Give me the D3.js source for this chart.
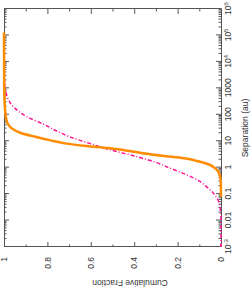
<!DOCTYPE html>
<html>
<head>
<meta charset="utf-8">
<script src="https://cdnjs.cloudflare.com/ajax/libs/d3/7.8.5/d3.min.js"></script>
<style>
  html, body { margin: 0; padding: 0; background: #fff; }
  svg { display: block; }
  .axis text { font-family: "Liberation Sans", Arial, sans-serif; font-size: 8.5px; fill: #333; }
  .axis path, .axis line { stroke: #555; stroke-width: 1; }
</style>
</head>
<body>
<div id="chart"></div>
<script>
// separation ticks (au), log scale
const sepMajor = [1e-3, 1e-2, 1e-1, 1, 10, 100, 1000, 1e4, 1e5, 1e6];
const sepLabels = [["10", "-3"], ["0.01", ""], ["0.1", ""], ["1", ""], ["10", ""], ["100", ""], ["1000", ""], ["10", "4"], ["10", "5"], ["10", "6"]];
const fracMajor = [0, 0.2, 0.4, 0.6, 0.8, 1];
const fracLabels = ["0", "0.2", "0.4", "0.6", "0.8", "1"];
const fracMinor = [0.1, 0.3, 0.5, 0.7, 0.9];

// orange: observed cumulative distribution
const orangeSep = [0.08, 0.3, 0.5, 0.7, 1.0, 1.26, 1.7, 2.26, 2.8, 3.5, 4.5, 5.5, 6.6, 8.3, 11, 15, 21, 31, 45, 70, 150, 1000, 1.3e5];
const orangeFrac = [0, 0.001, 0.005, 0.012, 0.03, 0.05, 0.10, 0.17, 0.27, 0.36, 0.44, 0.52, 0.62, 0.72, 0.79, 0.86, 0.925, 0.965, 0.982, 0.99, 0.995, 0.999, 1];

// pink: model distribution (dash-dot)
const pinkSep = [1e-3, 0.01, 0.02, 0.039, 0.07, 0.108, 0.2, 0.3, 0.61, 1.0, 1.55, 2.5, 4.7, 8, 15, 25, 41, 85, 204, 560, 2000, 1.4e4];
const pinkFrac = [0, 0, 0.002, 0.006, 0.018, 0.035, 0.07, 0.097, 0.174, 0.24, 0.296, 0.38, 0.51, 0.6, 0.70, 0.76, 0.81, 0.895, 0.957, 0.988, 0.998, 1];

const W = 252, H = 293;

const svg = d3.select('#chart').append('svg')
    .attr('width', W)
    .attr('height', H);

svg.append('rect').attr('width', W).attr('height', H).attr('fill', '#fff');

// the whole plot is drawn landscape and turned a quarter turn
const g = svg.append('g').attr('transform', `translate(0,${H}) rotate(-90)`);

const x = d3.scaleLog().domain([1e-3, 1e6]).range([46, 284]);
const y = d3.scaleLinear().domain([0, 1]).range([221, 4]);

const sepMinor = [];
sepMajor.slice(0, -1).forEach(m => {
    for (let k = 2; k <= 9; k++) sepMinor.push(m * k);
});

// bottom axis (separation)
const xAxis = g.append('g').attr('class', 'axis')
    .attr('transform', `translate(0,${y(0)})`)
    .call(d3.axisBottom(x).tickValues(sepMajor).tickSize(-5).tickSizeOuter(0).tickPadding(4).tickFormat(''));
xAxis.selectAll('.tick text').each(function(d, i) {
    const t = d3.select(this).text(null).attr('dy', '0.71em');
    t.append('tspan').text(sepLabels[i][0]);
    if (sepLabels[i][1]) {
        t.append('tspan').attr('dy', '-0.45em').attr('font-size', '6px').text(sepLabels[i][1]);
    }
});
g.append('g').attr('class', 'axis')
    .attr('transform', `translate(0,${y(0)})`)
    .call(d3.axisBottom(x).tickValues(sepMinor).tickSize(-2.5).tickSizeOuter(0).tickFormat(''))
    .select('.domain').remove();

// top axis mirror
g.append('g').attr('class', 'axis')
    .attr('transform', `translate(0,${y(1)})`)
    .call(d3.axisTop(x).tickValues(sepMajor).tickSize(-5).tickSizeOuter(0).tickFormat(''));
g.append('g').attr('class', 'axis')
    .attr('transform', `translate(0,${y(1)})`)
    .call(d3.axisTop(x).tickValues(sepMinor).tickSize(-2.5).tickSizeOuter(0).tickFormat(''))
    .select('.domain').remove();

// left axis (fraction)
g.append('g').attr('class', 'axis')
    .attr('transform', `translate(${x(1e-3)},0)`)
    .call(d3.axisLeft(y).tickValues(fracMajor).tickSize(-5).tickSizeOuter(0).tickPadding(10)
        .tickFormat((d, i) => fracLabels[i]));
g.append('g').attr('class', 'axis')
    .attr('transform', `translate(${x(1e-3)},0)`)
    .call(d3.axisLeft(y).tickValues(fracMinor).tickSize(-2.5).tickSizeOuter(0).tickFormat(''))
    .select('.domain').remove();

// right axis mirror
g.append('g').attr('class', 'axis')
    .attr('transform', `translate(${x(1e6)},0)`)
    .call(d3.axisRight(y).tickValues(fracMajor).tickSize(-5).tickSizeOuter(0).tickFormat(''));
g.append('g').attr('class', 'axis')
    .attr('transform', `translate(${x(1e6)},0)`)
    .call(d3.axisRight(y).tickValues(fracMinor).tickSize(-2.5).tickSizeOuter(0).tickFormat(''))
    .select('.domain').remove();

// axis titles
g.append('text')
    .attr('x', (x.range()[0] + x.range()[1]) / 2)
    .attr('y', 248)
    .attr('text-anchor', 'middle')
    .attr('font-family', '"Liberation Sans", Arial, sans-serif')
    .attr('font-size', '8.5px')
    .attr('fill', '#333')
    .text('Separation (au)');

g.append('text')
    .attr('transform', `translate(13,130) rotate(-90)`)
    .attr('text-anchor', 'middle')
    .attr('font-family', '"Liberation Sans", Arial, sans-serif')
    .attr('font-size', '8.5px')
    .attr('fill', '#333')
    .text('Cumulative Fraction');

// curves
const line = d3.line().x(d => x(d[0])).y(d => y(d[1])).curve(d3.curveMonotoneX);

g.append('path')
    .datum(pinkSep.map((s, i) => [s, pinkFrac[i]]))
    .attr('d', line)
    .attr('fill', 'none')
    .attr('stroke', '#ff1493')
    .attr('stroke-width', 1.5)
    .attr('stroke-dasharray', '4,2,1,2');

g.append('path')
    .datum(orangeSep.map((s, i) => [s, orangeFrac[i]]))
    .attr('d', line)
    .attr('fill', 'none')
    .attr('stroke', '#ff8c00')
    .attr('stroke-width', 2.5);
</script>
</body>
</html>
